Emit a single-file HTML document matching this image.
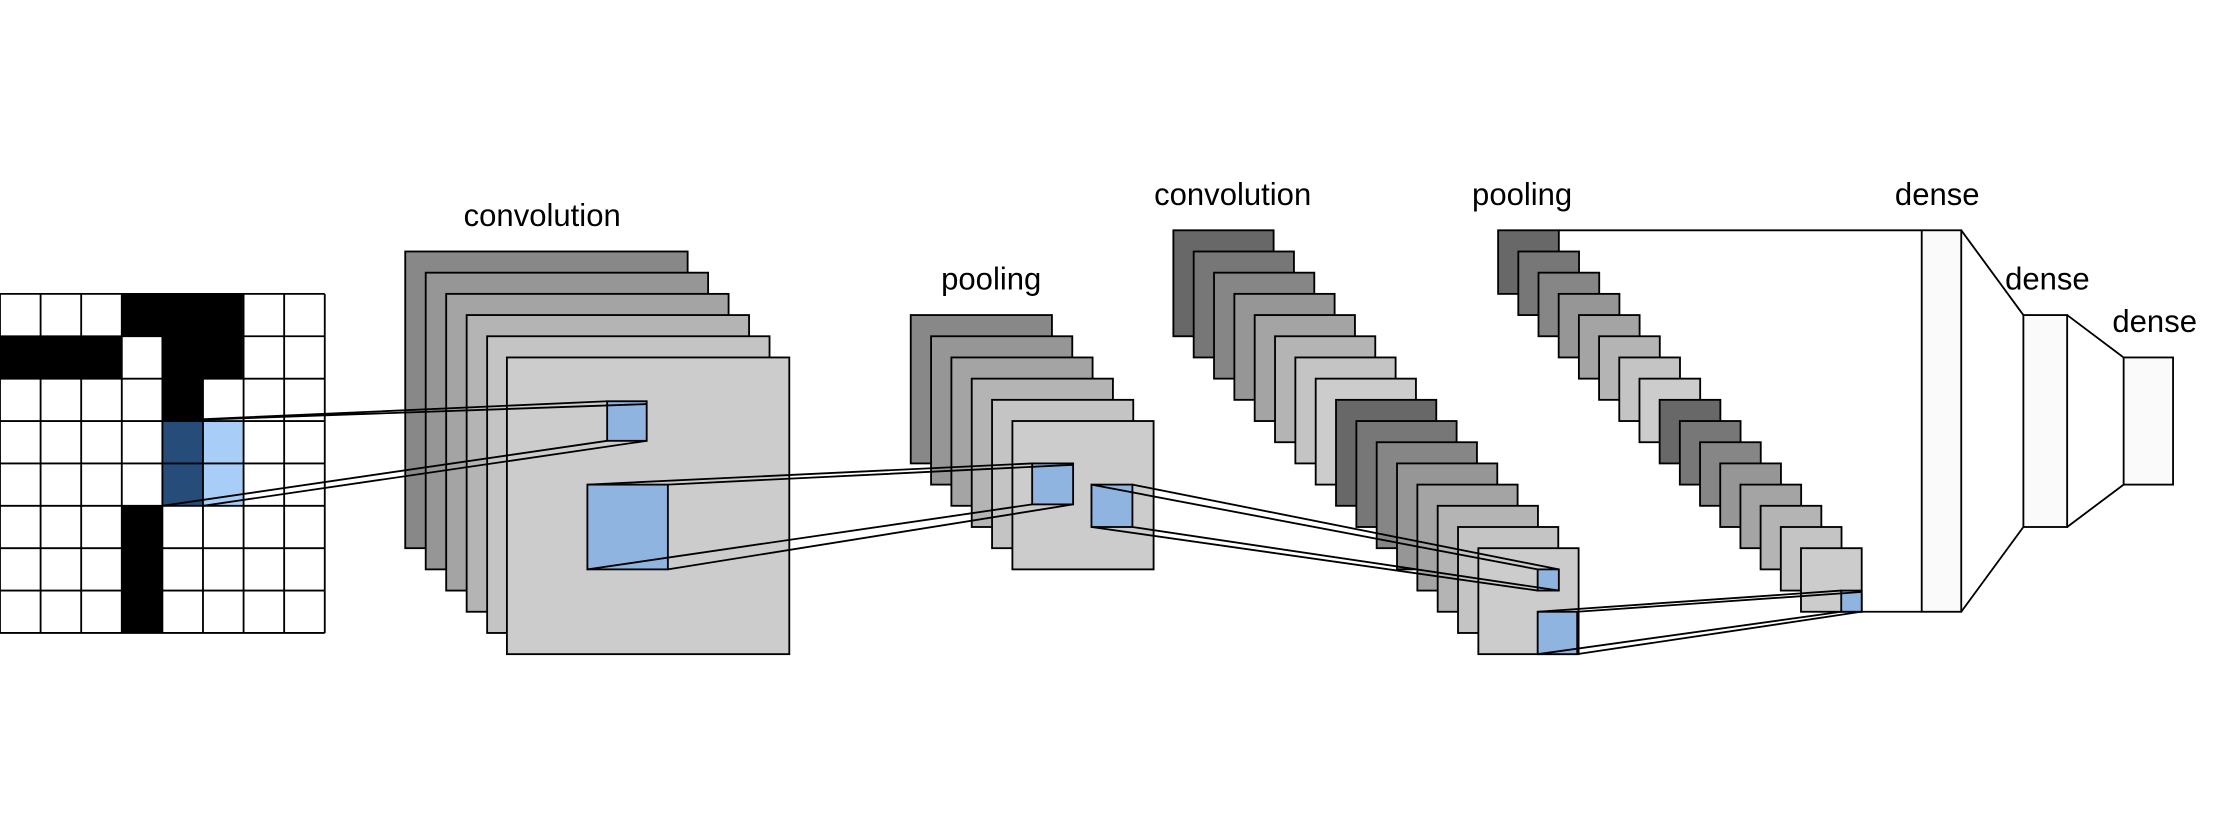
<!DOCTYPE html>
<html><head><meta charset="utf-8"><style>html,body{margin:0;padding:0;background:#fff}svg{display:block}</style></head>
<body>
<svg width="2214" height="835" viewBox="0 0 1568 591" preserveAspectRatio="none" xmlns="http://www.w3.org/2000/svg" font-family="Liberation Sans, sans-serif" font-size="22" fill="none" stroke="#000" stroke-width="1.3">
<rect width="1568" height="591" fill="#fff" stroke="none"/>
<g stroke="none">
<rect x="86" y="208" width="86" height="30" fill="#000"/>
<rect x="0" y="238" width="86" height="30" fill="#000"/>
<rect x="115" y="238" width="57" height="30" fill="#000"/>
<rect x="115" y="268" width="29" height="30" fill="#000"/>
<rect x="115" y="298" width="29" height="60" fill="#264d7a"/>
<rect x="144" y="298" width="28" height="60" fill="#a8cdf7"/>
<rect x="86" y="358" width="29" height="90" fill="#000"/>
</g>
<g stroke="#000" stroke-width="1.3">
<path d="M0 208H230M0 238H230M0 268H230M0 298H230M0 328H230M0 358H230M0 388H230M0 418H230M0 448H230"/>
<path d="M0 208V448M28.75 208V448M57.5 208V448M86.25 208V448M115 208V448M143.75 208V448M172.5 208V448M201.25 208V448M230 208V448"/>
</g>
<rect x="287" y="178" width="200" height="210" fill="#888"/>
<rect x="301.5" y="193" width="200" height="210" fill="#969696"/>
<rect x="316" y="208" width="200" height="210" fill="#a4a4a4"/>
<rect x="330.5" y="223" width="200" height="210" fill="#b4b4b4"/>
<rect x="345" y="238" width="200" height="210" fill="#c4c4c4"/>
<rect x="359" y="253" width="200" height="210" fill="#cccccc"/>
<rect x="430" y="284" width="28" height="28" fill="#8fb4e0"/>
<rect x="416" y="343" width="57" height="60" fill="#8fb4e0"/>
<path d="M115 298L430 284M115 298L458 286M115 358L430 312M144 358L458 312"/>
<rect x="645" y="223" width="100" height="105" fill="#888"/>
<rect x="659.4" y="238" width="100" height="105" fill="#969696"/>
<rect x="673.8" y="253" width="100" height="105" fill="#a4a4a4"/>
<rect x="688.2" y="268" width="100" height="105" fill="#b4b4b4"/>
<rect x="702.6" y="283" width="100" height="105" fill="#c4c4c4"/>
<rect x="717" y="298" width="100" height="105" fill="#cccccc"/>
<rect x="731" y="328" width="29" height="29" fill="#8fb4e0"/>
<rect x="773" y="343" width="29" height="30" fill="#8fb4e0"/>
<path d="M416 343L731 328M473 343L760 329M416 403L731 357M473 403L760 357"/>
<g>
<rect x="831" y="163" width="71" height="75" fill="#686868"/>
<rect x="845.4" y="178" width="71" height="75" fill="#777"/>
<rect x="859.8" y="193" width="71" height="75" fill="#868686"/>
<rect x="874.2" y="208" width="71" height="75" fill="#969696"/>
<rect x="888.6" y="223" width="71" height="75" fill="#a4a4a4"/>
<rect x="903" y="238" width="71" height="75" fill="#b4b4b4"/>
<rect x="917.4" y="253" width="71" height="75" fill="#c4c4c4"/>
<rect x="931.8" y="268" width="71" height="75" fill="#cccccc"/>
<rect x="946.2" y="283" width="71" height="75" fill="#686868"/>
<rect x="960.6" y="298" width="71" height="75" fill="#777"/>
<rect x="975" y="313" width="71" height="75" fill="#868686"/>
<rect x="989.4" y="328" width="71" height="75" fill="#969696"/>
<rect x="1003.8" y="343" width="71" height="75" fill="#a4a4a4"/>
<rect x="1018.2" y="358" width="71" height="75" fill="#b4b4b4"/>
<rect x="1032.6" y="373" width="71" height="75" fill="#c4c4c4"/>
<rect x="1047" y="388" width="71" height="75" fill="#cccccc"/>
</g>
<rect x="1089" y="403" width="15" height="15" fill="#8fb4e0"/>
<rect x="1089" y="433" width="28" height="30" fill="#8fb4e0"/>
<path d="M773 343L1089 403M802 343L1104 403M773 373L1089 418M802 373L1104 418"/>
<g>
<rect x="1061" y="163" width="43" height="45" fill="#686868"/>
<rect x="1075.3" y="178" width="43" height="45" fill="#777"/>
<rect x="1089.6" y="193" width="43" height="45" fill="#868686"/>
<rect x="1103.9" y="208" width="43" height="45" fill="#969696"/>
<rect x="1118.2" y="223" width="43" height="45" fill="#a4a4a4"/>
<rect x="1132.5" y="238" width="43" height="45" fill="#b4b4b4"/>
<rect x="1146.8" y="253" width="43" height="45" fill="#c4c4c4"/>
<rect x="1161.1" y="268" width="43" height="45" fill="#cccccc"/>
<rect x="1175.4" y="283" width="43" height="45" fill="#686868"/>
<rect x="1189.7" y="298" width="43" height="45" fill="#777"/>
<rect x="1204" y="313" width="43" height="45" fill="#868686"/>
<rect x="1218.3" y="328" width="43" height="45" fill="#969696"/>
<rect x="1232.6" y="343" width="43" height="45" fill="#a4a4a4"/>
<rect x="1246.9" y="358" width="43" height="45" fill="#b4b4b4"/>
<rect x="1261.2" y="373" width="43" height="45" fill="#c4c4c4"/>
<rect x="1275.5" y="388" width="43" height="45" fill="#cccccc"/>
</g>
<rect x="1304" y="418" width="14.5" height="15" fill="#8fb4e0"/>
<path d="M1089 433L1304 418M1117 433L1318 419M1089 463L1304 433M1117 463L1318 433"/>
<path d="M1104 163H1361M1318 433H1361"/>
<rect x="1361" y="163" width="28" height="270" fill="#fafafa"/>
<rect x="1433" y="223" width="31" height="150" fill="#fafafa"/>
<rect x="1504" y="253" width="35" height="90" fill="#fafafa"/>
<path d="M1389 163L1433 223M1389 433L1433 373M1464 223L1504 253M1464 373L1504 343"/>
<g fill="#000" stroke="none" text-anchor="middle">
<text x="384" y="160">convolution</text>
<text x="702" y="205">pooling</text>
<text x="873" y="145">convolution</text>
<text x="1078" y="145">pooling</text>
<text x="1372" y="145">dense</text>
<text x="1450" y="205">dense</text>
<text x="1526" y="235">dense</text>
</g>
</svg>
</body></html>
